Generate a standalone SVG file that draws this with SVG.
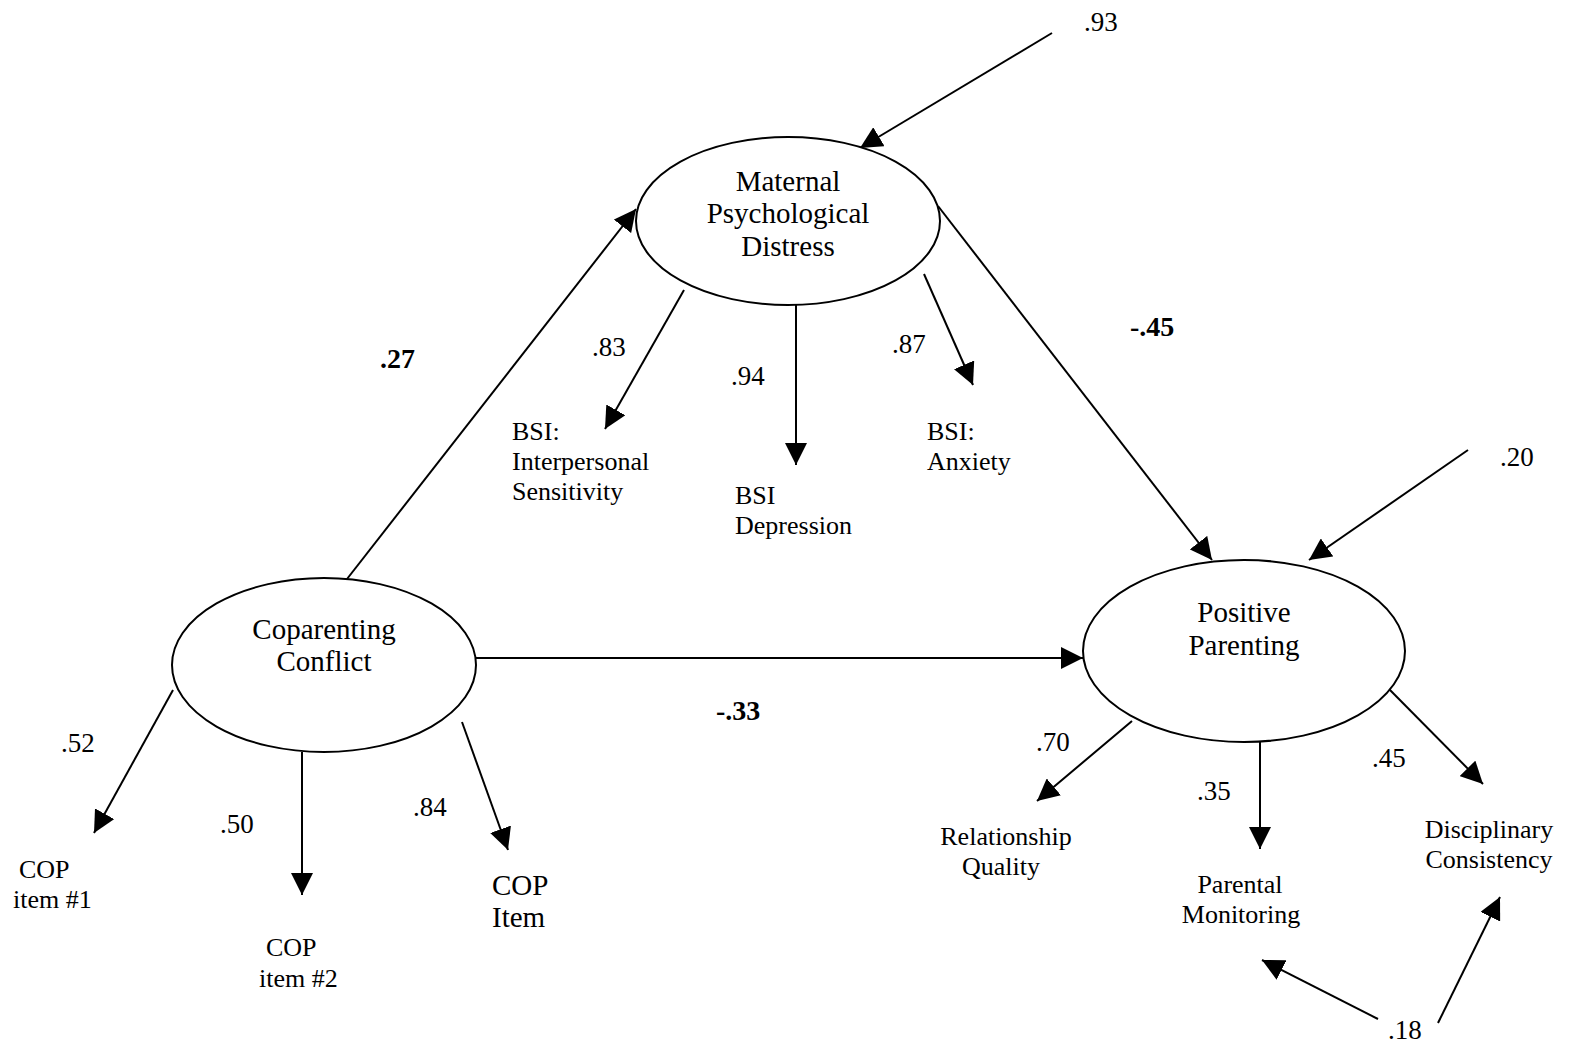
<svg xmlns="http://www.w3.org/2000/svg" width="1577" height="1047" viewBox="0 0 1577 1047">
<style>
text{font-family:"Liberation Serif","Times New Roman",serif;fill:#000}
.lat{font-size:29px;text-anchor:middle}
.lbl{font-size:26px}
.mid{text-anchor:middle}
.coef{font-size:27px}
.bold{font-size:28px;font-weight:bold}
ellipse{fill:#fff;stroke:#000;stroke-width:2}
.conn line{stroke:#000;stroke-width:2;marker-end:url(#ah)}
</style>
<defs>
<marker id="ah" viewBox="0 0 22 22" refX="22" refY="11" markerWidth="22" markerHeight="22" markerUnits="userSpaceOnUse" orient="auto">
<path d="M0,0 L22,11 L0,22 z" fill="#000"/>
</marker>
</defs>
<rect width="1577" height="1047" fill="#fff"/>
<g class="conn" id="connectors">
<line x1="1052" y1="33" x2="860" y2="148"/>
<line x1="347" y1="579" x2="636" y2="209"/>
<line x1="938" y1="206" x2="1212" y2="560"/>
<line x1="1468" y1="450" x2="1309" y2="560"/>
<line x1="476" y1="658" x2="1083" y2="658"/>
<line x1="684" y1="290" x2="605" y2="429"/>
<line x1="796" y1="304" x2="796" y2="465"/>
<line x1="924" y1="274" x2="973" y2="385"/>
<line x1="173" y1="690" x2="94" y2="833"/>
<line x1="302" y1="752" x2="302" y2="895"/>
<line x1="462" y1="722" x2="508" y2="850"/>
<line x1="1132" y1="721" x2="1037" y2="801"/>
<line x1="1260" y1="739" x2="1260" y2="849"/>
<line x1="1389" y1="689" x2="1483" y2="784"/>
<line x1="1378" y1="1019" x2="1262" y2="960"/>
<line x1="1438" y1="1023" x2="1500" y2="897"/>
</g>
<g id="maternal">
<ellipse cx="788" cy="221" rx="152" ry="84"/>
<text class="lat" x="788" y="191">Maternal</text>
<text class="lat" x="788" y="223">Psychological</text>
<text class="lat" x="788" y="256">Distress</text>
</g>
<g id="coparenting">
<ellipse cx="324" cy="665" rx="152" ry="87"/>
<text class="lat" x="324" y="639">Coparenting</text>
<text class="lat" x="324" y="671">Conflict</text>
</g>
<g id="positive">
<ellipse cx="1244" cy="651" rx="161" ry="91"/>
<text class="lat" x="1244" y="622">Positive</text>
<text class="lat" x="1244" y="655">Parenting</text>
</g>
<g id="bsi-interpersonal">
<text class="lbl" x="512" y="440">BSI:</text>
<text class="lbl" x="512" y="470">Interpersonal</text>
<text class="lbl" x="512" y="500">Sensitivity</text>
</g>
<g id="bsi-depression">
<text class="lbl" x="735" y="504">BSI</text>
<text class="lbl" x="735" y="534">Depression</text>
</g>
<g id="bsi-anxiety">
<text class="lbl" x="927" y="440">BSI:</text>
<text class="lbl" x="927" y="470">Anxiety</text>
</g>
<g id="cop1">
<text class="lbl" x="19" y="878">COP</text>
<text class="lbl" x="13" y="908">item #1</text>
</g>
<g id="cop2">
<text class="lbl" x="266" y="956">COP</text>
<text class="lbl" x="259" y="987">item #2</text>
</g>
<g id="cop3">
<text class="lat" style="text-anchor:start" x="492" y="895">COP</text>
<text class="lat" style="text-anchor:start" x="492" y="927">Item</text>
</g>
<g id="relationship">
<text class="lbl mid" x="1006" y="845">Relationship</text>
<text class="lbl mid" x="1001" y="875">Quality</text>
</g>
<g id="monitoring">
<text class="lbl mid" x="1240" y="893">Parental</text>
<text class="lbl mid" x="1241" y="923">Monitoring</text>
</g>
<g id="disciplinary">
<text class="lbl mid" x="1489" y="838">Disciplinary</text>
<text class="lbl mid" x="1489" y="868">Consistency</text>
</g>
<g id="coefficients">
<text class="coef" x="1084" y="31">.93</text>
<text class="bold" x="380" y="368">.27</text>
<text class="coef" x="592" y="356">.83</text>
<text class="coef" x="731" y="385">.94</text>
<text class="coef" x="892" y="353">.87</text>
<text class="bold" x="1130" y="336">-.45</text>
<text class="coef" x="1500" y="466">.20</text>
<text class="coef" x="61" y="752">.52</text>
<text class="coef" x="220" y="833">.50</text>
<text class="coef" x="413" y="816">.84</text>
<text class="bold" x="716" y="720">-.33</text>
<text class="coef" x="1036" y="751">.70</text>
<text class="coef" x="1197" y="800">.35</text>
<text class="coef" x="1372" y="767">.45</text>
<text class="coef" x="1388" y="1039">.18</text>
</g>
</svg>
